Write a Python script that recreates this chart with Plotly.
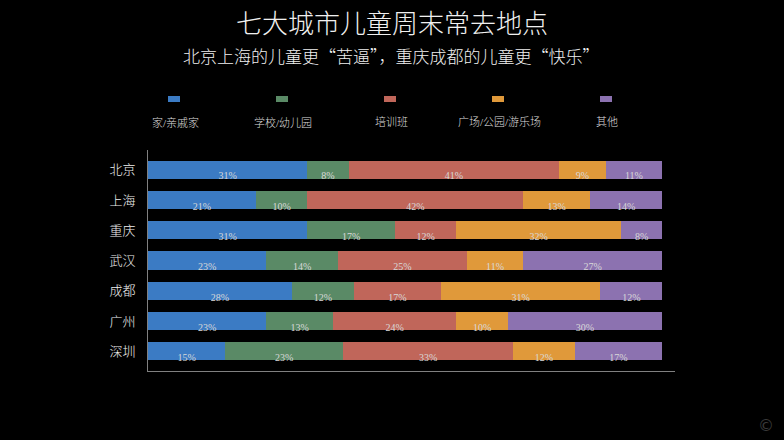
import plotly.graph_objects as go
import numpy as np

cities = ["北京", "上海", "重庆", "武汉", "成都", "广州", "深圳"]
categories = ["家/亲戚家", "学校/幼儿园", "培训班", "广场/公园/游乐场", "其他"]
home = [31, 21, 31, 23, 28, 23, 15]
school = [8, 10, 17, 14, 12, 13, 23]
training = [41, 42, 12, 25, 17, 24, 33]
park = [9, 13, 32, 11, 31, 10, 12]
other = [11, 14, 8, 27, 12, 30, 17]

series = [home, school, training, park, other]
colors = ["#3B7BC4", "#5A8A66", "#C0665A", "#E0993A", "#8C72B0"]

FONT = "Liberation Serif, Noto Sans CJK SC"
CJK = "Noto Sans CJK SC"
W, H = 784, 440
L, R, T, B = 148, 109, 150, 69
PW, PH = W - L - R, H - T - B

def px(x):
    return (x - L) / PW

def py(y):
    return (H - B - y) / PH

fig = go.Figure()
idx = list(range(len(cities)))
base = np.zeros(len(cities))
lab_x, lab_y, lab_t = [], [], []
for name, vals, col in zip(categories, series, colors):
    v = np.array(vals, dtype=float)
    fig.add_trace(go.Bar(
        y=idx, x=v, base=base, orientation="h", name=name,
        marker=dict(color=col, line=dict(width=0)), width=0.6,
        showlegend=False, hoverinfo="x+name",
    ))
    for i in idx:
        lab_x.append(base[i] + v[i] / 2)
        lab_y.append(i + 0.24)
        lab_t.append(f"{int(v[i])}%")
    base = base + v

fig.add_trace(go.Scatter(
    x=lab_x, y=lab_y, text=lab_t, mode="text",
    textfont=dict(family=FONT, size=10, color="#d8d8d8"),
    showlegend=False, hoverinfo="skip",
))

shapes = []
annotations = []
centers = [174, 282, 390, 498, 606]
for c, name, col in zip(centers, categories, colors):
    shapes.append(dict(type="rect", xref="paper", yref="paper",
                       x0=px(c - 6), x1=px(c + 6), y0=py(102), y1=py(96),
                       fillcolor=col, line=dict(width=0)))
    annotations.append(dict(x=px(c + 1), y=py(122), xref="paper", yref="paper",
                            text=name, showarrow=False, xanchor="center", yanchor="middle",
                            font=dict(family=FONT, size=11, color="#dddddd", weight=300)))

annotations.append(dict(x=px(392), y=py(21), xref="paper", yref="paper",
                        text="七大城市儿童周末常去地点", showarrow=False,
                        xanchor="center", yanchor="middle",
                        font=dict(family=CJK, size=26, color="#f0f0f0", weight=300)))
annotations.append(dict(x=px(391), y=py(55), xref="paper", yref="paper",
                        text="北京上海的儿童更“苦逼”，重庆成都的儿童更“快乐”", showarrow=False,
                        xanchor="center", yanchor="middle",
                        font=dict(family=CJK, size=17, color="#f0f0f0", weight=300)))
annotations.append(dict(x=px(766), y=py(425), xref="paper", yref="paper",
                        text="©", showarrow=False, xanchor="center", yanchor="middle",
                        font=dict(family="DejaVu Sans", size=16, color="#3a3a3a")))

fig.update_layout(
    width=W, height=H,
    margin=dict(l=L, r=R, t=T, b=B, pad=0),
    paper_bgcolor="black", plot_bgcolor="black",
    barmode="overlay", bargap=0,
    shapes=shapes, annotations=annotations,
    font=dict(family=FONT, color="#eeeeee"),
    xaxis=dict(range=[0, 102.5], showgrid=False, zeroline=False,
               showticklabels=False, ticks="", showline=True,
               linecolor="#808080", linewidth=1, fixedrange=True),
    yaxis=dict(range=[6.65, -0.65], tickmode="array", tickvals=idx, ticktext=cities,
               showgrid=False, zeroline=False, ticks="", showline=True,
               linecolor="#808080", linewidth=1,
               tickfont=dict(family=CJK, size=13, color="#f0f0f0", weight=300),
               ticklabelstandoff=9, fixedrange=True),
)

fig.write_html("out.html")
